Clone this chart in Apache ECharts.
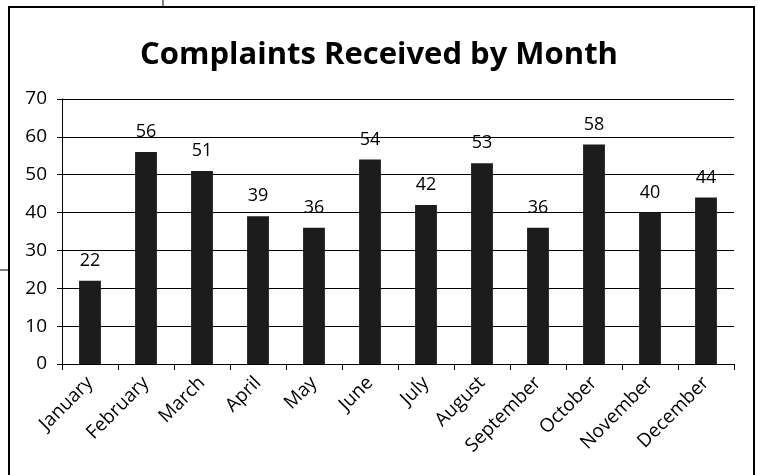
<!DOCTYPE html>
<html>
<head>
<meta charset="utf-8">
<script src="https://cdn.jsdelivr.net/npm/echarts@6/dist/echarts.min.js"></script>
<style>
  html, body { margin: 0; padding: 0; background: #fff; }
  #chart { width: 758px; height: 475px; }
</style>
</head>
<body>
<div id="chart"></div>
<script>
// values
const months = ['January', 'February', 'March', 'April', 'May', 'June',
  'July', 'August', 'September', 'October', 'November', 'December'];
const complaints = [22, 56, 51, 39, 36, 54, 42, 53, 36, 58, 40, 44];
const yTicks = { min: 0, max: 70, interval: 10 };

const chart = echarts.init(document.getElementById('chart'));
const font = '"Open Sans", sans-serif';

chart.setOption({
  backgroundColor: '#fff',
  animation: false,
  title: {
    text: 'Complaints Received by Month',
    left: 'center',
    top: 35,
    textStyle: { fontFamily: font, fontWeight: 'bold', fontSize: 31, color: '#000' }
  },
  grid: { left: 62, right: 24, top: 99, bottom: 111 },
  xAxis: {
    type: 'category',
    data: months,
    axisLine: { lineStyle: { color: '#000', width: 1 } },
    axisTick: { show: true, alignWithLabel: false, length: 6, lineStyle: { color: '#000' } },
    axisLabel: {
      rotate: 45,
      margin: 16,
      color: '#000',
      fontFamily: font,
      fontSize: 19,
      interval: 0
    }
  },
  yAxis: {
    type: 'value',
    min: yTicks.min,
    max: yTicks.max,
    interval: yTicks.interval,
    axisLine: { show: true, lineStyle: { color: '#000' } },
    axisTick: { show: true, length: 5, lineStyle: { color: '#000' } },
    axisLabel: { color: '#000', fontFamily: font, fontSize: 19, margin: 15 },
    splitLine: { show: true, lineStyle: { color: '#000', width: 1 } }
  },
  series: [{
    type: 'bar',
    data: complaints,
    barWidth: '39%',
    itemStyle: { color: '#1c1c1c' },
    label: {
      show: true,
      position: 'top',
      distance: 11,
      color: '#000',
      fontFamily: font,
      fontSize: 18
    }
  }],
  graphic: [
    {
      type: 'rect',
      shape: { x: 9, y: 7, width: 745, height: 480 },
      style: { fill: 'none', stroke: '#000', lineWidth: 2 },
      z: 10
    },
    {
      type: 'line',
      shape: { x1: 163, y1: 0, x2: 163, y2: 7 },
      style: { stroke: '#000', lineWidth: 1 }
    },
    {
      type: 'line',
      shape: { x1: 0, y1: 270, x2: 9, y2: 270 },
      style: { stroke: '#000', lineWidth: 1 }
    }
  ]
});
</script>
</body>
</html>
